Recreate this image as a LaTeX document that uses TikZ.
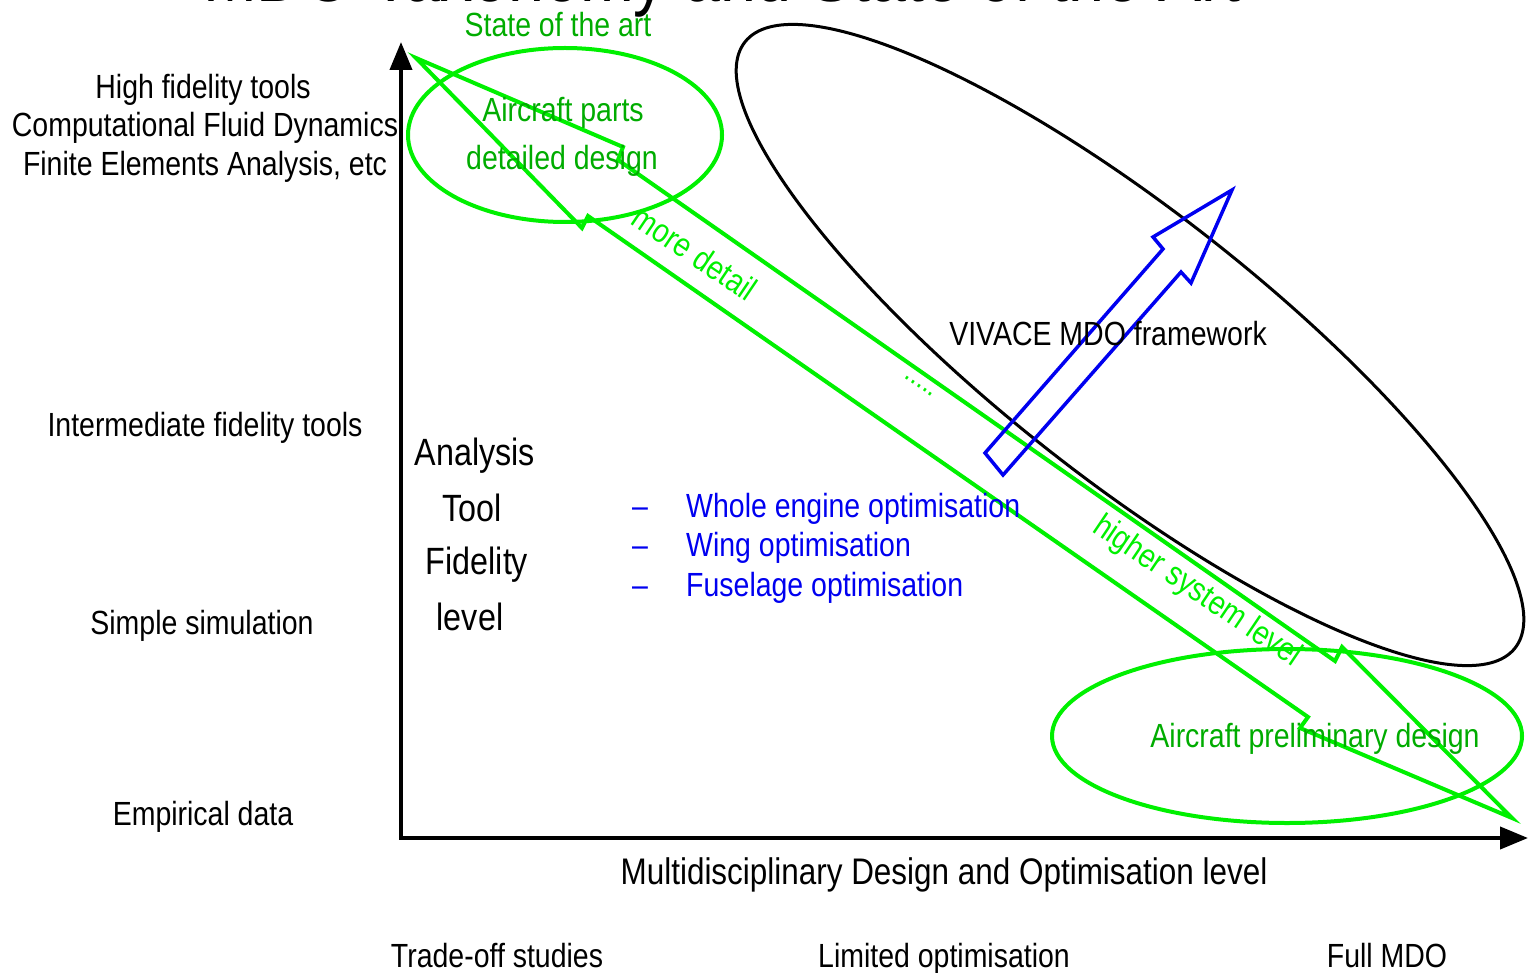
\documentclass[tikz,border=0pt]{standalone}
\usepackage{fontspec}
\setmainfont{Liberation Sans}[FakeStretch=0.85]
\usetikzlibrary{arrows.meta}
\definecolor{limegreen}{RGB}{0,240,0}
\definecolor{textgreen}{RGB}{0,172,0}
\definecolor{mdoblue}{RGB}{0,0,240}
\begin{document}
\begin{tikzpicture}[x=1pt,y=-1pt,
  lbl/.style={anchor=base,inner sep=0pt,font=\fontsize{33.5}{40}\selectfont},
  big/.style={lbl,font=\fontsize{38}{44}\selectfont},
  slanted/.style={anchor=center,inner sep=0pt,text=limegreen,rotate=-34,font=\fontsize{33.5}{40}\selectfont},
  gline/.style={draw=limegreen,line width=4pt},
  axis/.style={line width=4pt,{Triangle[length=28pt,width=22pt]}-{Triangle[length=28pt,width=22pt]}}]
\useasboundingbox (0,0) rectangle (1528,973);
\node[lbl,font=\fontsize{76}{80}\selectfont] (title) at (722,1.5) {MDO Taxonomy and State of the Art};
\coordinate (origin) at (401,838);
\coordinate (ytip) at (401,42);
\coordinate (xtip) at (1528,838);
\draw[axis] (ytip) -- (origin) -- (xtip);
\draw[line width=3pt,rotate around={-38.2:(1130,345)}] (1130,345) ellipse [x radius=490pt,y radius=133pt];
\draw[gline] (565,135) ellipse [x radius=157pt,y radius=87pt];
\draw[gline] (1287,736) ellipse [x radius=235pt,y radius=87pt];
\draw[gline] (416,58) -- (623,147) -- (618,160) -- (1335,661) -- (1342,647) -- (1512,818) -- (1300,728) -- (1308,717) -- (588,216) -- (582,228) -- cycle;
\draw[draw=mdoblue,line width=3.5pt] (1232,190) -- (1153,237) -- (1163,249) -- (985,453) -- (1003,475) -- (1181,272) -- (1191,283) -- cycle;
\node[lbl] (hifi) at (203,99) {High fidelity tools};
\node[lbl] (cfd) at (205,137) {Computational Fluid Dynamics};
\node[lbl] (fea) at (205,176) {Finite Elements Analysis, etc};
\node[lbl] (interm) at (205,436) {Intermediate fidelity tools};
\node[lbl] (simple) at (202,634) {Simple simulation};
\node[lbl] (empirical) at (203,825) {Empirical data};
\node[big] (analysis) at (475,465) {Analysis};
\node[big] (tool) at (472,521) {Tool};
\node[big] (fidelity) at (477,574) {Fidelity};
\node[big] (level) at (470,630) {level};
\node[lbl,text=mdoblue] (dash1) at (640,517) {–};
\node[lbl,text=mdoblue] (dash2) at (640,556) {–};
\node[lbl,text=mdoblue] (dash3) at (640,596) {–};
\node[lbl,anchor=base west,text=mdoblue] (whole) at (686,517) {Whole engine optimisation};
\node[lbl,anchor=base west,text=mdoblue] (wing) at (686,556) {Wing optimisation};
\node[lbl,anchor=base west,text=mdoblue] (fuselage) at (686,596) {Fuselage optimisation};
\node[lbl,font=\fontsize{37}{44}\selectfont] (mdolevel) at (944,884) {Multidisciplinary Design and Optimisation level};
\node[lbl] (tradeoff) at (497,967) {Trade-off studies};
\node[lbl] (limited) at (944,967) {Limited optimisation};
\node[lbl] (fullmdo) at (1387,967) {Full MDO};
\node[lbl,text=textgreen] (soa) at (558,37) {State of the art};
\node[lbl,text=textgreen] (parts) at (563,122) {Aircraft parts};
\node[lbl,text=textgreen] (detailed) at (562,170) {detailed design};
\node[lbl,text=textgreen] (prelim) at (1315,747) {Aircraft preliminary design};
\node[lbl] (vivace) at (1108,345) {VIVACE MDO framework};
\node[slanted] (moredetail) at (695,253) {more detail};
\node[slanted] (higher) at (1197,592) {higher system level};
\node[slanted,font=\fontsize{30}{34}\selectfont] (dots) at (919,386) {.....};
\end{tikzpicture}
\end{document}
